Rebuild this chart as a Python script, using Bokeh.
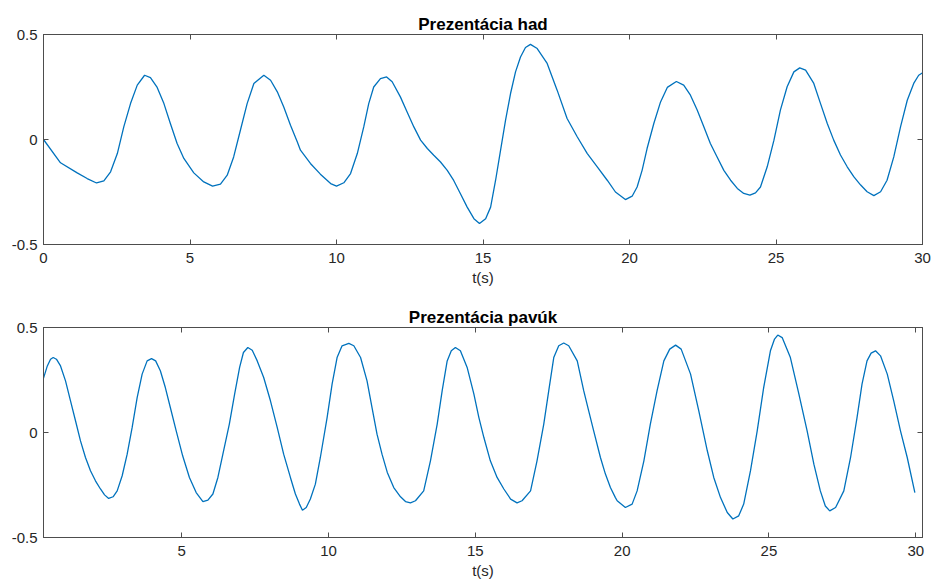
from bokeh.plotting import figure
from bokeh.models import LinearAxis, FixedTicker, Range1d
from bokeh.layouts import column
from bokeh.embed import file_html
from bokeh.resources import INLINE

# ---- data ----
had_title = "Prezentácia had"
pavuk_title = "Prezentácia pavúk"
x_label = "t(s)"

had_t = [0, 0.58, 1.15, 1.49, 1.81, 2.06, 2.29, 2.52, 2.74, 2.97, 3.2, 3.45, 3.65, 3.88, 4.11,
         4.33, 4.56, 4.79, 5.13, 5.47, 5.77, 6.04, 6.27, 6.49, 6.72, 6.95, 7.18, 7.52, 7.75, 7.98,
         8.2, 8.43, 8.66,
         8.77, 9.11, 9.45, 9.8, 10.0, 10.25, 10.48, 10.71, 10.93, 11.1, 11.27, 11.5, 11.71, 11.9,
         12.18, 12.41, 12.64, 12.87, 13.1, 13.32, 13.55, 13.78, 14.0, 14.23, 14.46, 14.69, 14.88,
         15.09, 15.26, 15.43, 15.6, 15.77, 15.94, 16.11, 16.28, 16.45, 16.62, 16.85, 17.19, 17.53,
         17.87, 18.22, 18.56, 18.9, 19.24, 19.52,
         19.86, 20.09, 20.26, 20.43, 20.6, 20.83, 21.06, 21.29, 21.6, 21.85, 22.08, 22.31, 22.54,
         22.76, 22.99, 23.22, 23.45, 23.68, 23.9, 24.11, 24.3, 24.47, 24.7, 24.93, 25.15, 25.38,
         25.61, 25.81, 26.01, 26.29, 26.52, 26.75, 26.97, 27.2, 27.43, 27.66, 27.89, 28.11, 28.34,
         28.57, 28.79, 29.02, 29.25, 29.48, 29.7, 29.87, 29.99]
had_y = [0, -0.111, -0.159, -0.186, -0.207, -0.197, -0.154, -0.067, 0.06, 0.171, 0.259, 0.306,
         0.295, 0.248, 0.171, 0.076, -0.019, -0.09, -0.159, -0.202, -0.222, -0.212, -0.17, -0.083,
         0.044, 0.171, 0.267, 0.306, 0.282, 0.227, 0.155, 0.068, -0.011,
         -0.051, -0.114, -0.165, -0.21, -0.222, -0.206, -0.162, -0.067, 0.06, 0.171, 0.25, 0.29,
         0.298, 0.275, 0.203, 0.131, 0.06, -0.003, -0.043, -0.075, -0.107, -0.147, -0.195, -0.258,
         -0.322, -0.377, -0.4, -0.377, -0.322, -0.194, -0.051, 0.092, 0.219, 0.322, 0.393, 0.438,
         0.453, 0.433, 0.362, 0.235, 0.1, 0.012, -0.067, -0.13, -0.194, -0.25,
         -0.286, -0.27, -0.226, -0.147, -0.043, 0.076, 0.179, 0.248, 0.276, 0.259, 0.211, 0.14,
         0.06, -0.019, -0.083, -0.147, -0.194, -0.233, -0.257, -0.265, -0.254, -0.226, -0.13,
         -0.003, 0.14, 0.251, 0.322, 0.341, 0.33, 0.267, 0.171, 0.076, -0.003, -0.074, -0.13,
         -0.178, -0.217, -0.249, -0.267, -0.249, -0.194, -0.083, 0.06, 0.187, 0.267, 0.306, 0.317]

pavuk_t = [0.28, 0.42, 0.53, 0.62, 0.73, 0.87, 1.04, 1.21, 1.38, 1.55, 1.72, 1.89, 2.06, 2.23,
           2.37, 2.51, 2.66, 2.8, 2.97, 3.14, 3.31, 3.48, 3.65, 3.82, 3.97, 4.11, 4.27, 4.44, 4.61,
           4.81, 5.03, 5.26, 5.49, 5.72, 5.89, 6.06, 6.23, 6.4, 6.62, 6.8, 6.97, 7.1, 7.25, 7.4,
           7.57, 7.79, 8.02, 8.25, 8.47, 8.7, 8.87, 9.01, 9.11, 9.24, 9.38, 9.55, 9.72,
           9.95, 10.12, 10.29, 10.46, 10.69, 10.86, 11.09, 11.31, 11.48, 11.65, 11.82, 12.0, 12.22,
           12.45, 12.62, 12.79, 12.96, 13.24, 13.47, 13.7, 13.87, 14.04, 14.18, 14.32, 14.49,
           14.72, 14.95, 15.12, 15.29, 15.51, 15.74, 15.97, 16.2, 16.42, 16.59, 16.88, 17.1, 17.33,
           17.5, 17.67, 17.84, 18.01, 18.18, 18.47, 18.69, 18.86, 19.03, 19.26, 19.43, 19.6, 19.77,
           19.83, 20.11, 20.34, 20.51, 20.74, 20.96, 21.19, 21.42, 21.62, 21.82, 22.01, 22.33,
           22.61, 22.9, 23.12, 23.35, 23.58, 23.77, 23.97, 24.14, 24.37, 24.6, 24.82, 25.05, 25.19,
           25.3, 25.45, 25.73, 26.02, 26.3, 26.53, 26.75, 26.92, 27.07, 27.27, 27.55, 27.78, 28.0,
           28.17, 28.34, 28.48, 28.63, 28.8, 29.03, 29.25, 29.48, 29.71, 29.97]
pavuk_y = [0.254, 0.317, 0.349, 0.357, 0.349, 0.317, 0.246, 0.151, 0.056, -0.04, -0.119, -0.182,
           -0.23, -0.269, -0.297, -0.314, -0.306, -0.278, -0.206, -0.103, 0.024, 0.166, 0.278,
           0.341, 0.352, 0.341, 0.294, 0.214, 0.119, 0.008, -0.111, -0.214, -0.286, -0.329, -0.322,
           -0.293, -0.214, -0.103, 0.04, 0.183, 0.31, 0.381, 0.405, 0.392, 0.341, 0.262, 0.151,
           0.024, -0.103, -0.214, -0.293, -0.341, -0.37, -0.357, -0.317, -0.246, -0.119,
           0.071, 0.23, 0.357, 0.413, 0.424, 0.413, 0.357, 0.246, 0.119, -0.008, -0.103, -0.19,
           -0.262, -0.306, -0.329, -0.335, -0.325, -0.278, -0.135, 0.04, 0.199, 0.341, 0.389,
           0.405, 0.389, 0.31, 0.183, 0.071, -0.024, -0.135, -0.214, -0.269, -0.317, -0.335,
           -0.325, -0.278, -0.135, 0.04, 0.199, 0.357, 0.413, 0.426, 0.413, 0.341, 0.199, 0.103,
           0.008, -0.119, -0.198, -0.262, -0.31,
           -0.325, -0.357, -0.341, -0.278, -0.135, 0.04, 0.199, 0.341, 0.397, 0.416, 0.397, 0.278,
           0.103, -0.087, -0.214, -0.31, -0.381, -0.412, -0.397, -0.341, -0.183, 0.008, 0.214,
           0.389, 0.445, 0.464, 0.452, 0.357, 0.183, 0.008, -0.151, -0.278, -0.35, -0.373, -0.357,
           -0.278, -0.119, 0.071, 0.23, 0.341, 0.378, 0.389, 0.365, 0.278, 0.151, 0.008, -0.119,
           -0.286]

had_xticks = [0, 5, 10, 15, 20, 25, 30]
pavuk_xticks = [5, 10, 15, 20, 25, 30]
y_ticks = [-0.5, 0, 0.5]
y_tick_labels = ["-0.5", "0", "0.5"]

had_xrange = (0, 30)
pavuk_xrange = (0.29, 30.23)
y_range = (-0.5, 0.5)

assert len(had_t) == len(had_y)
assert len(pavuk_t) == len(pavuk_y)

LINE = "#0072BD"
AX = "#4d4d4d"
TXT = "#262626"
FONT = "Liberation Sans"


def style_axis(ax, ticks, labels=True, overrides=None):
    ax.ticker = FixedTicker(ticks=ticks)
    ax.axis_line_color = AX
    ax.axis_line_width = 1
    ax.major_tick_line_color = AX
    ax.major_tick_in = 5
    ax.major_tick_out = 0
    ax.minor_tick_line_color = None
    ax.major_label_text_font = FONT
    if labels:
        ax.major_label_text_color = TXT
        ax.major_label_text_font_size = "15px"
    else:
        ax.major_label_text_color = None
        ax.major_label_text_font_size = "1px"
        ax.major_label_standoff = 0
    if overrides:
        ax.major_label_overrides = overrides


def make_fig(title, t, y, xticks, xr, top_border, bottom_border):
    p = figure(frame_width=879, frame_height=210, output_backend="svg", toolbar_location=None,
               x_range=Range1d(*xr), y_range=Range1d(*y_range),
               min_border_left=43, min_border_right=11,
               min_border_top=top_border, min_border_bottom=bottom_border)
    p.grid.visible = False
    p.outline_line_color = AX
    p.outline_line_width = 1
    p.background_fill_color = "white"
    p.border_fill_color = "white"

    p.title.text = title
    p.title.align = "center"
    p.title.text_font = FONT
    p.title.text_font_size = "17px"
    p.title.text_font_style = "bold"
    p.title.text_color = "black"
    p.title.standoff = 2

    yover = {v: s for v, s in zip(y_ticks, y_tick_labels)}
    style_axis(p.xaxis[0], xticks)
    p.xaxis[0].major_label_standoff = 8
    p.xaxis[0].axis_label = x_label
    p.xaxis[0].axis_label_text_font = FONT
    p.xaxis[0].axis_label_text_font_size = "15px"
    p.xaxis[0].axis_label_text_font_style = "normal"
    p.xaxis[0].axis_label_text_color = TXT
    p.xaxis[0].axis_label_standoff = 3
    style_axis(p.yaxis[0], y_ticks, overrides=yover)
    p.yaxis[0].major_label_standoff = 6

    top = LinearAxis()
    style_axis(top, xticks, labels=False)
    p.add_layout(top, "above")
    right = LinearAxis()
    style_axis(right, y_ticks, labels=False)
    p.add_layout(right, "right")

    p.line(t, y, line_color=LINE, line_width=1.3)
    return p


p1 = make_fig(had_title, had_t, had_y, had_xticks, had_xrange, 34, 48)
p2 = make_fig(pavuk_title, pavuk_t, pavuk_y, pavuk_xticks, pavuk_xrange, 35, 50)

p = column(p1, p2, spacing=0)
open("out.html", "w").write(file_html(p, INLINE))
